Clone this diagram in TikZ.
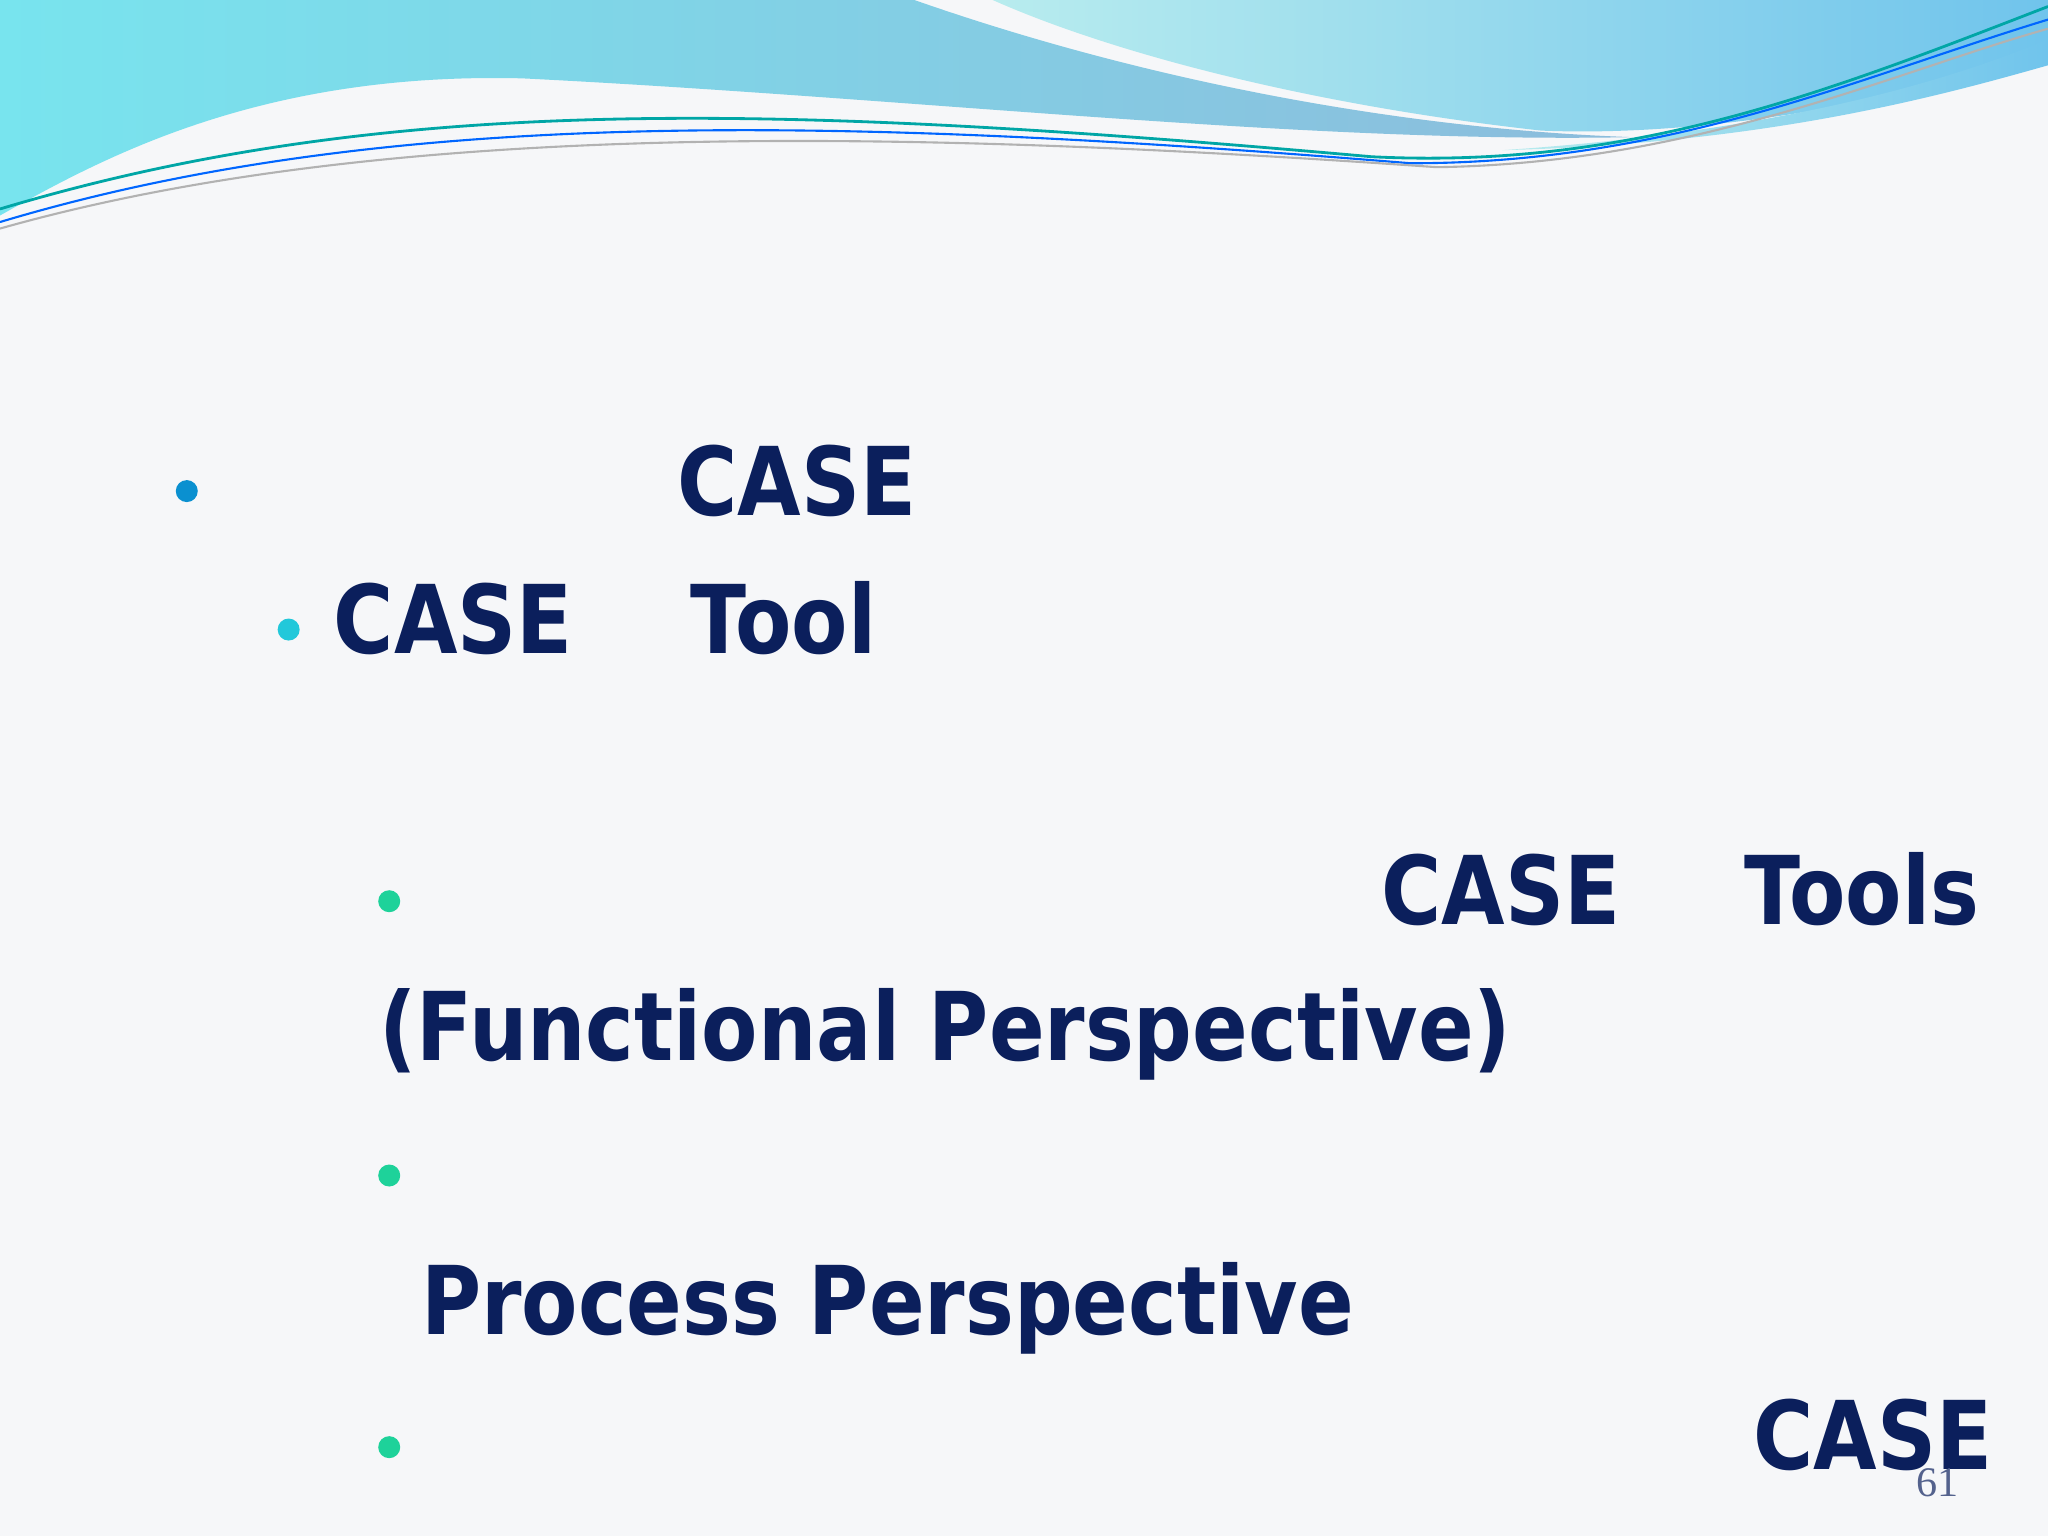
\documentclass[tikz,border=0pt]{standalone}
\usepackage{fontspec}
\setmainfont[FakeStretch=0.865]{DejaVu Sans}
\definecolor{navy}{HTML}{0B1F5C}
\definecolor{bgc}{HTML}{F6F7F9}
\definecolor{b1}{HTML}{0A90D0}
\definecolor{b2}{HTML}{22C8DA}
\definecolor{b3}{HTML}{1ED29A}
\definecolor{w1}{HTML}{78E4EE}
\definecolor{w2}{HTML}{8CBCDC}
\definecolor{w3}{HTML}{B8ECEE}
\definecolor{w4}{HTML}{70C4EC}
\begin{document}
\begin{tikzpicture}[x=0.013061cm,y=-0.013061cm,
  txt/.style={anchor=base west,inner sep=0pt,text=navy,font=\bfseries\fontsize{27}{32}\selectfont},
  dot/.style={circle,fill=#1,inner sep=0pt,minimum size=0.22cm}]
\fill[bgc] (0,0) rectangle (1568,1176);
\useasboundingbox (0,0) rectangle (1568,1176);
% waves
\shade[left color=w1, right color=w2]
 (0,0) -- (700,0) .. controls (900,70) and (1100,100) .. (1250,105)
 .. controls (1000,110) and (700,75) .. (400,60) .. controls (200,55) and (80,120) .. (0,165) -- cycle;
\shade[left color=w3, right color=w4]
 (760,0) -- (1568,0) -- (1568,40) .. controls (1450,80) and (1300,105) .. (1180,100)
 .. controls (1000,80) and (850,40) .. (760,0) -- cycle;
\shade[left color=w3, right color=w4]
 (1150,115) .. controls (1350,110) and (1480,75) .. (1568,50) -- (1568,30) .. controls (1450,80) and (1300,105) .. (1150,115) -- cycle;
\draw[teal!70!cyan,line width=0.8pt] (0,160) .. controls (300,70) and (600,80) .. (1050,120) .. controls (1250,130) and (1400,70) .. (1568,5);
\draw[blue!60!cyan,line width=0.6pt] (0,170) .. controls (300,80) and (650,90) .. (1080,125) .. controls (1280,125) and (1420,60) .. (1568,15);
\draw[gray!60,line width=0.6pt] (0,175) .. controls (300,90) and (700,100) .. (1100,128) .. controls (1300,125) and (1450,55) .. (1568,22);
% bullets
\node[dot=b1] (d1) at (143,376) {};
\node[dot=b2] (d2) at (221,482) {};
\node[dot=b3] (d3) at (298,690) {};
\node[dot=b3] (d4) at (298,900) {};
\node[dot=b3] (d5) at (298,1108) {};
% text
\node[txt] (t1) at (518,395) {CASE};
\node[txt] (t2) at (255,500) {CASE};
\node[txt] (t3) at (528,500) {Tool};
\node[txt] (t4) at (1057,708) {CASE};
\node[txt] (t5) at (1335,708) {Tools};
\node[txt] (t6) at (290,812) {(Functional Perspective)};
\node[txt] (t7) at (322,1022) {Process Perspective};
\node[txt] (t8) at (1342,1125) {CASE};
\node[anchor=base west,inner sep=0pt,text=navy!70,font=\fontspec{Liberation Serif}\fontsize{12}{14}\selectfont] (pg) at (1467,1146) {61};
\end{tikzpicture}
\end{document}
